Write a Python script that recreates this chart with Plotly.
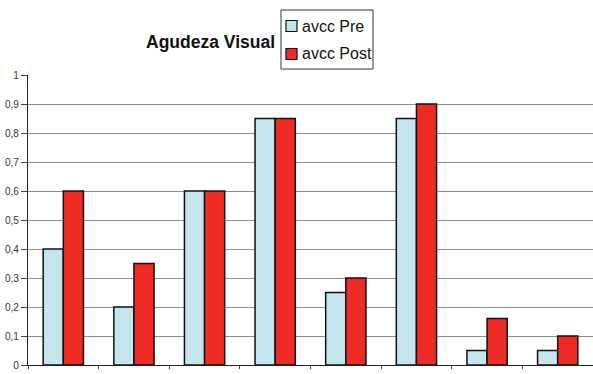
import plotly.graph_objects as go

# Data
categories = ["1", "2", "3", "4", "5", "6", "7", "8"]
avcc_pre = [0.40, 0.20, 0.60, 0.85, 0.25, 0.85, 0.05, 0.05]
avcc_post = [0.60, 0.35, 0.60, 0.85, 0.30, 0.90, 0.16, 0.10]
series_names = ["avcc Pre", "avcc Post"]
series_colors = ["#c2e5ee", "#ee2b25"]
y_tick_vals = [0, 0.1, 0.2, 0.3, 0.4, 0.5, 0.6, 0.7, 0.8, 0.9, 1]
y_tick_text = ["0", "0,1", "0,2", "0,3", "0,4", "0,5", "0,6", "0,7", "0,8", "0,9", "1"]

W, H = 593, 374
ML, MR, MT, MB = 28, 0, 75, 9
PW, PH = W - ML - MR, H - MT - MB


def px_x(x):
    return (x - ML) / PW


def px_y(y):
    return (H - MB - y) / PH


fig = go.Figure()
for name, vals, col in zip(series_names, [avcc_pre, avcc_post], series_colors):
    fig.add_trace(go.Bar(
        x=categories, y=vals, name=name, showlegend=False,
        marker=dict(color=col, line=dict(color="#111111", width=1.5)),
    ))

# Boxed legend beside the title
shapes = [dict(
    type="rect", xref="paper", yref="paper",
    x0=px_x(281), x1=px_x(373), y0=px_y(69), y1=px_y(10),
    line=dict(color="#333333", width=1), fillcolor="white", layer="above",
)]
annotations = [dict(
    text="<b>Agudeza Visual</b>", x=px_x(210), y=px_y(42), xref="paper", yref="paper",
    xanchor="center", yanchor="middle", showarrow=False,
    font=dict(size=17.5, color="#111111"),
)]
for i, (name, col) in enumerate(zip(series_names, series_colors)):
    yc = 26 + i * 28
    shapes.append(dict(
        type="rect", xref="paper", yref="paper",
        x0=px_x(286), x1=px_x(297), y0=px_y(yc + 5.5), y1=px_y(yc - 5.5),
        line=dict(color="#111111", width=1.2), fillcolor=col, layer="above",
    ))
    annotations.append(dict(
        text=name, x=px_x(300), y=px_y(yc), xref="paper", yref="paper",
        xanchor="left", yanchor="middle", showarrow=False,
        font=dict(size=16, color="#111111"),
    ))

fig.update_layout(
    width=W, height=H,
    margin=dict(l=ML, r=MR, t=MT, b=MB),
    paper_bgcolor="white", plot_bgcolor="white",
    barmode="group", bargap=0.43, bargroupgap=0,
    font=dict(family="Liberation Sans, Arial, sans-serif", color="#222222"),
    shapes=shapes, annotations=annotations,
)

fig.update_xaxes(
    showticklabels=False, showgrid=False,
    showline=True, linecolor="#222222", linewidth=1.2,
    ticks="outside", tickson="boundaries", ticklen=3, tickcolor="#444444",
)
fig.update_yaxes(
    range=[0, 1], tickvals=y_tick_vals, ticktext=y_tick_text,
    showgrid=True, gridcolor="#8c8c8c", gridwidth=1.4,
    showline=True, linecolor="#222222", linewidth=1.2,
    ticks="outside", ticklen=6, tickcolor="#444444",
    tickfont=dict(size=10, color="#333333"), zeroline=False,
)

fig.write_html("out.html")
